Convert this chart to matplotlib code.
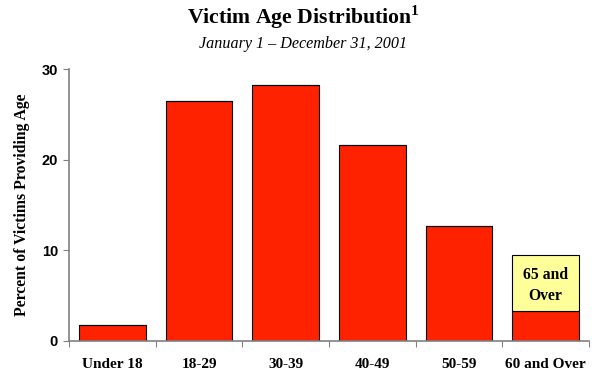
import matplotlib.pyplot as plt

# age groups and percent of victims
categories = ['Under 18', '18-29', '30-39', '40-49', '50-59', '60 and Over']
percents = [1.8, 26.5, 28.2, 21.6, 12.7, 3.3]
# share of the last bar that is 65 and over, stacked on top
over65 = [0, 0, 0, 0, 0, 6.2]

red = '#FF2200'
yellow = '#FFFF99'

plt.rcParams['mathtext.fontset'] = 'custom'
plt.rcParams['mathtext.bf'] = 'Liberation Serif:bold'
plt.rcParams['mathtext.rm'] = 'Liberation Serif'

fig = plt.figure(figsize=(5.94, 3.70), dpi=100)
ax = fig.add_axes([0.1162, 0.0784, 0.8754, 0.7351])

x = range(len(categories))
ax.bar(x, percents, width=0.77, color=red, edgecolor='black', linewidth=0.8)
ax.bar(x, over65, bottom=percents, width=0.77, color=yellow,
       edgecolor='black', linewidth=0.8)
ax.text(5, percents[5] + over65[5] / 2 - 0.3, '65 and\nOver', ha='center', va='center',
        fontfamily='Liberation Serif', fontweight='bold', fontsize=11.3,
        linespacing=1.4)

ax.set_xlim(-0.5, 5.5)
ax.set_ylim(0, 30)
ax.set_yticks([0, 10, 20, 30])
ax.set_xticks([i - 0.5 for i in range(7)], minor=False)
ax.set_xticklabels([])
ax.set_xticks(list(x), minor=True)
ax.set_xticklabels(categories, minor=True, fontfamily='Liberation Serif',
                   fontweight='bold', fontsize=11)
ax.tick_params(axis='x', which='minor', length=0, pad=12)
ax.tick_params(axis='x', which='major', length=4, color='#808080', direction='out')
ax.tick_params(axis='y', length=4, color='#808080', pad=4)
for lab in ax.get_yticklabels():
    lab.set_fontfamily('Liberation Sans')
    lab.set_fontweight('bold')
    lab.set_fontsize(10.5)

for side in ['top', 'right']:
    ax.spines[side].set_visible(False)
for side in ['left', 'bottom']:
    ax.spines[side].set_color('#808080')
    ax.spines[side].set_linewidth(1.2)

ax.set_ylabel('Percent of Victims Providing Age', fontfamily='Liberation Serif',
              fontweight='bold', fontsize=11.3, labelpad=8)

fig.text(0.51, 0.953, r'Victim Age Distribution$^{\mathbf{1}}$', ha='center', va='center',
         fontfamily='Liberation Serif', fontweight='bold', fontsize=15.7)
fig.text(0.51, 0.882, 'January 1 \u2013 December 31, 2001', ha='center', va='center',
         fontfamily='Liberation Serif', fontstyle='italic', fontsize=11.6)

fig.savefig('out.png', dpi=100)
